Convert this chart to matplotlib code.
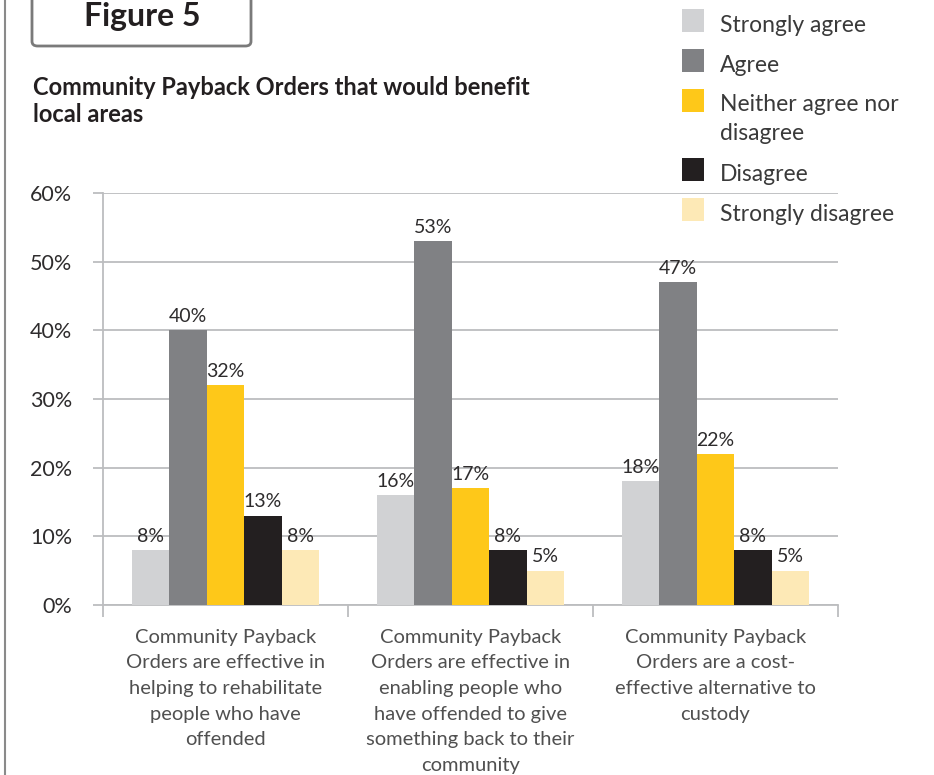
import matplotlib.pyplot as plt
from matplotlib.patches import FancyBboxPatch, Rectangle
from matplotlib.lines import Line2D
import numpy as np

plt.rcParams['font.family'] = ['Lato', 'DejaVu Sans']

TEXT = '#2e2c2d'
GRID = '#bcbdbf'

categories = [
    'Community Payback\nOrders are effective in\nhelping to rehabilitate\npeople who have\noffended',
    'Community Payback\nOrders are effective in\nenabling people who\nhave offended to give\nsomething back to their\ncommunity',
    'Community Payback\nOrders are a cost-\neffective alternative to\ncustody',
]
series = ['Strongly agree', 'Agree', 'Neither agree nor\ndisagree',
          'Disagree', 'Strongly disagree']
colors = ['#d1d2d4', '#808184', '#fec819', '#231f20', '#fde9b6']

strongly_agree = [8, 16, 18]
agree = [40, 53, 47]
neither = [32, 17, 22]
disagree = [13, 8, 8]
strongly_disagree = [8, 5, 5]
values = [strongly_agree, agree, neither, disagree, strongly_disagree]

yticks = [0, 10, 20, 30, 40, 50, 60]

fig = plt.figure(figsize=(9.34, 7.75), dpi=100)
W, H = 934, 775

ax = fig.add_axes([103 / W, 1 - 605 / H, 735 / W, 412 / H])

x = np.arange(len(categories))
width = 0.153
for i, (vals, col) in enumerate(zip(values, colors)):
    pos = x + (i - 2) * width
    ax.bar(pos, vals, width, color=col, zorder=3)
    for px, v in zip(pos, vals):
        ax.annotate(f'{v}%', (px, v), xytext=(0, 6), textcoords='offset points',
                    ha='center', va='baseline', fontsize=14, color=TEXT)

ax.set_xlim(-0.5, 2.5)
ax.set_ylim(0, 60)
ax.set_yticks(yticks)
ax.set_yticklabels([f'{t}%' for t in yticks], fontsize=15.5, color=TEXT)
ax.yaxis.grid(True, color=GRID, linewidth=1.3, zorder=0)
ax.tick_params(axis='y', length=7, width=1.3, color=GRID, pad=15)

ax.set_xticks(x)
ax.set_xticklabels(categories, fontsize=14.5, color='#505050',
                   linespacing=1.62, va='top')
ax.set_xticks([-0.5, 0.5, 1.5, 2.5], minor=True)
ax.tick_params(axis='x', which='major', length=0, pad=17)
ax.tick_params(axis='x', which='minor', length=8.5, width=1.3, color=GRID)

for side in ['top', 'right']:
    ax.spines[side].set_visible(False)
for side in ['left', 'bottom']:
    ax.spines[side].set_color(GRID)
    ax.spines[side].set_linewidth(1.3)

# page border on the left
fig.add_artist(Line2D([5 / W, 5 / W], [0, 1], color='#8a8a8a', linewidth=1.5,
                      transform=fig.transFigure))

# "Figure 5" tab
tab = FancyBboxPatch((32 / W, 1 - 46 / H), 219 / W, 60 / H,
                     boxstyle='round,pad=0,rounding_size=0.006',
                     transform=fig.transFigure, facecolor='white',
                     edgecolor='#7a7a7a', linewidth=2)
fig.add_artist(tab)
fig.text(142 / W, 1 - 26 / H, 'Figure 5', ha='center', va='baseline',
         fontsize=23, fontweight='bold', color='#231f20')

# multi-line text: baseline position is that of the last line
fig.text(33 / W, 1 - 122 / H, 'Community Payback Orders that would benefit\nlocal areas',
         ha='left', va='baseline', fontsize=17, fontweight='bold', color='#231f20',
         linespacing=1.2)

# legend, drawn by hand so the swatch sits on the first text line
legend_base = [32, 72, 112, 181, 221]
line_step = 28
for lab, col, base in zip(series, colors, legend_base):
    fig.add_artist(Rectangle((682 / W, 1 - base / H), 22 / W, 23 / H,
                             transform=fig.transFigure, facecolor=col,
                             edgecolor='none'))
    last = base + line_step * lab.count('\n')
    fig.text(720 / W, 1 - last / H, lab, ha='left', va='baseline',
             fontsize=16.5, color='#3a3a3a', linespacing=1.48)

fig.savefig('out.png', dpi=100)
